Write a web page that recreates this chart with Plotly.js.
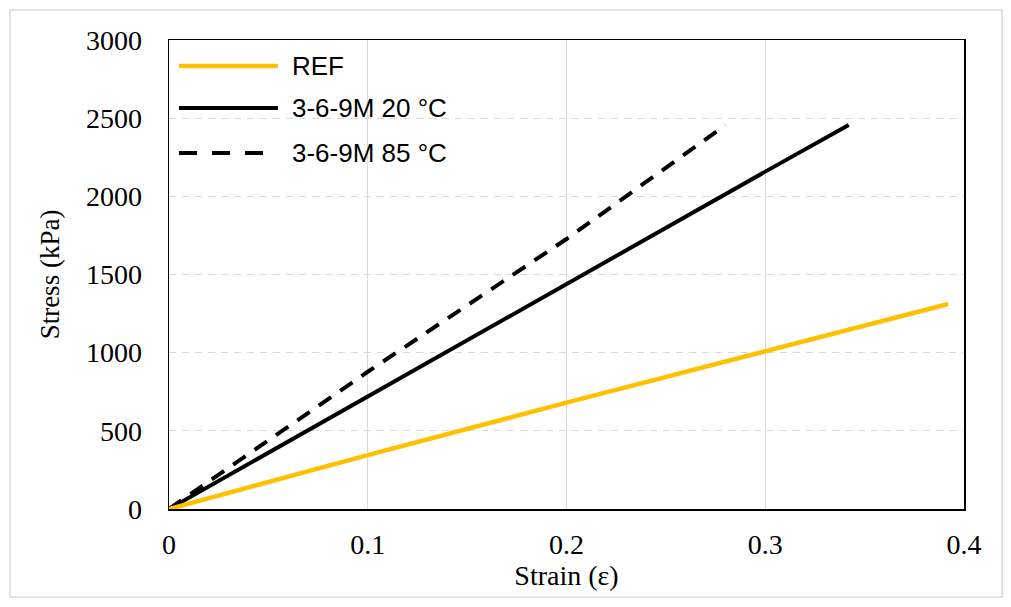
<!DOCTYPE html>
<html>
<head>
<meta charset="utf-8">
<script src="https://cdn.plot.ly/plotly-3.0.1.min.js"></script>
<style>
    html, body { margin: 0; padding: 0; background: #ffffff; }
    #chart { width: 1011px; height: 607px; }
</style>
</head>
<body>
<div id="chart"></div>
<script>
// values
const strainRef = [0, 0.1, 0.2, 0.3, 0.392];
const stressRef = [0, 345, 680, 1005, 1311];

const strain20 = [0, 0.1, 0.2, 0.3, 0.342];
const stress20 = [0, 720, 1444, 2158, 2456];

const strain85 = [0, 0.1, 0.2, 0.28];
const stress85 = [0, 878, 1727, 2456];

const seriesNames = ["REF", "3-6-9M 20 °C", "3-6-9M 85 °C"];
const xTicks = [0, 0.1, 0.2, 0.3, 0.4];
const yTicks = [0, 500, 1000, 1500, 2000, 2500, 3000];

const yellow = "#ffc000";
const serif = "\"Liberation Serif\", \"Times New Roman\", serif";
const sans = "\"Liberation Sans\", Arial, sans-serif";

const traces = [
    {
        type: "scatter",
        mode: "lines",
        name: seriesNames[2],
        x: strain85,
        y: stress85,
        line: { color: "#000000", width: 4, dash: "15px,11px" },
    },
    {
        type: "scatter",
        mode: "lines",
        name: seriesNames[1],
        x: strain20,
        y: stress20,
        line: { color: "#000000", width: 4 },
    },
    {
        type: "scatter",
        mode: "lines",
        name: seriesNames[0],
        x: strainRef,
        y: stressRef,
        line: { color: yellow, width: 4.5 },
    },
];

// hand-placed legend, the line samples are longer than plotly's own
const legendRows = [
    { name: seriesNames[0], color: yellow, dash: "solid", width: 4.5, y: 0.9446 },
    { name: seriesNames[1], color: "#000000", dash: "solid", width: 4, y: 0.855 },
    { name: seriesNames[2], color: "#000000", dash: "18px,15px", width: 4, y: 0.759 },
];

const shapes = [
    // figure frame
    {
        type: "rect", xref: "paper", yref: "paper",
        x0: -0.2, x1: 1.048, y0: -0.1876, y1: 1.064,
        line: { color: "#d9d9d9", width: 1.5 },
        layer: "below",
    },
];
const annotations = [];
legendRows.forEach((row) => {
    shapes.push({
        type: "line", xref: "paper", yref: "paper",
        x0: 0.0126, x1: 0.137, y0: row.y, y1: row.y,
        line: { color: row.color, width: row.width, dash: row.dash },
    });
    annotations.push({
        xref: "paper", yref: "paper",
        x: 0.152, y: row.y,
        xanchor: "left", yanchor: "middle",
        text: row.name,
        showarrow: false,
        font: { family: sans, size: 26, color: "#000000" },
    });
});

const layout = {
    width: 1011,
    height: 607,
    margin: { l: 169, r: 47, t: 40, b: 98 },
    paper_bgcolor: "#ffffff",
    plot_bgcolor: "#ffffff",
    showlegend: false,
    font: { family: serif, color: "#000000", size: 28 },
    xaxis: {
        range: [0, 0.4],
        tickvals: xTicks,
        ticktext: xTicks.map(String),
        showgrid: true,
        gridcolor: "#d9d9d9",
        gridwidth: 1.2,
        zeroline: false,
        showline: true,
        linecolor: "#000000",
        linewidth: 1.5,
        mirror: true,
        ticks: "",
        ticklabelstandoff: 10,
        tickfont: { family: serif, size: 28, color: "#000000" },
        title: {
            text: "Strain (ε)",
            font: { family: serif, size: 28, color: "#000000" },
            standoff: 4,
        },
    },
    yaxis: {
        range: [0, 3000],
        tickvals: yTicks,
        showgrid: true,
        gridcolor: "#d9d9d9",
        gridwidth: 1.2,
        griddash: "7px,6px",
        zeroline: false,
        showline: true,
        linecolor: "#000000",
        linewidth: 1.5,
        mirror: true,
        ticks: "",
        ticklabelstandoff: 20,
        tickfont: { family: serif, size: 28, color: "#000000" },
        title: {
            text: "Stress (kPa)",
            font: { family: serif, size: 27, color: "#000000" },
            standoff: 18,
        },
    },
    shapes: shapes,
    annotations: annotations,
};

Plotly.newPlot("chart", traces, layout, { displayModeBar: false, staticPlot: true });
</script>
</body>
</html>
